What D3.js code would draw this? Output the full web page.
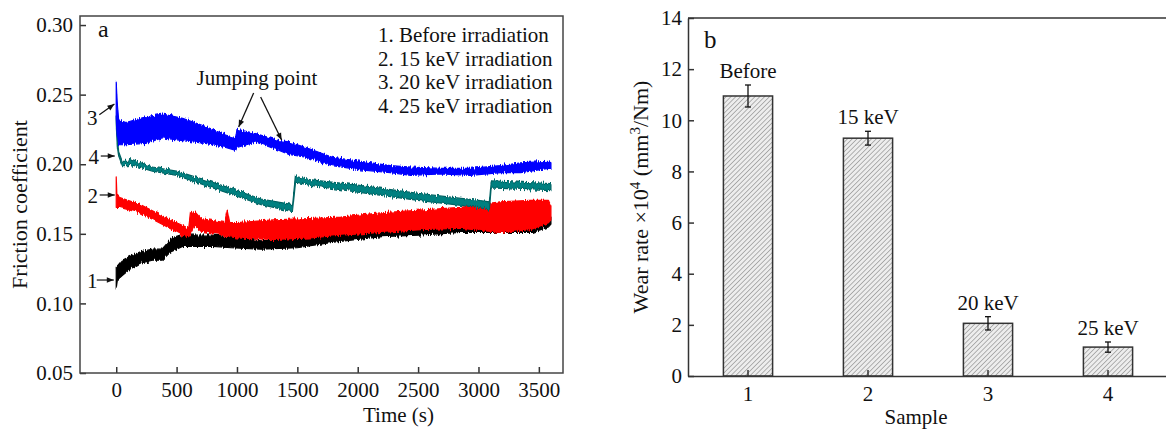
<!DOCTYPE html>
<html>
<head>
<meta charset="utf-8">
<script src="https://cdn.jsdelivr.net/npm/d3@7"></script>
<style>
  body { margin: 0; background: #fff; }
  svg text { font-family: 'Liberation Serif', 'Times New Roman', serif; font-size: 21px; fill: #111; }
  .axis path, .axis line { stroke: #333; stroke-width: 1.5; }
  .axis text { font-family: 'Liberation Serif', 'Times New Roman', serif; font-size: 21px; fill: #111; }
</style>
</head>
<body>
<div id="chart"></div>
<script>
// ---------- Panel a: friction coefficient traces (upper / lower envelope of the noisy band)
const beforeTime  = [0, 10, 50, 120, 200, 300, 380, 450, 550, 800, 950, 1200, 1500, 1800, 2200, 2500, 2850, 3200, 3450, 3580, 3600];
const beforeUpper = [0.126, 0.127, 0.131, 0.134, 0.137, 0.139, 0.139, 0.146, 0.149, 0.149, 0.148, 0.145, 0.147, 0.151, 0.155, 0.156, 0.158, 0.159, 0.160, 0.161, 0.162];
const beforeLower = [0.111, 0.117, 0.120, 0.125, 0.129, 0.131, 0.131, 0.137, 0.141, 0.141, 0.140, 0.139, 0.140, 0.144, 0.148, 0.149, 0.151, 0.151, 0.151, 0.155, 0.157];

const kev15Time  = [0, 5, 30, 200, 400, 550, 600, 615, 650, 700, 900, 920, 940, 1000, 1300, 1600, 1860, 2190, 2520, 2850, 3180, 3430, 3580, 3600];
const kev15Upper = [0.191, 0.178, 0.176, 0.171, 0.162, 0.156, 0.154, 0.165, 0.166, 0.161, 0.158, 0.167, 0.158, 0.158, 0.160, 0.161, 0.162, 0.165, 0.167, 0.169, 0.173, 0.174, 0.174, 0.170];
const kev15Lower = [0.169, 0.169, 0.169, 0.165, 0.156, 0.149, 0.148, 0.150, 0.156, 0.152, 0.149, 0.149, 0.148, 0.147, 0.146, 0.147, 0.149, 0.151, 0.153, 0.154, 0.151, 0.153, 0.158, 0.160];

const kev20Time  = [0, 8, 20, 80, 245, 385, 550, 740, 906, 990, 1000, 1155, 1345, 1430, 1570, 1790, 2025, 2270, 2440, 2690, 2935, 3183, 3350, 3580, 3600];
const kev20Upper = [0.259, 0.245, 0.232, 0.230, 0.234, 0.236, 0.233, 0.227, 0.221, 0.219, 0.225, 0.222, 0.217, 0.216, 0.212, 0.205, 0.202, 0.199, 0.198, 0.197, 0.197, 0.199, 0.201, 0.202, 0.201];
const kev20Lower = [0.232, 0.222, 0.214, 0.214, 0.215, 0.219, 0.217, 0.215, 0.212, 0.210, 0.212, 0.216, 0.210, 0.207, 0.205, 0.199, 0.196, 0.194, 0.192, 0.193, 0.192, 0.194, 0.194, 0.197, 0.197];

const kev25Time  = [0, 10, 20, 50, 100, 110, 300, 500, 800, 1000, 1200, 1460, 1485, 1500, 1600, 2000, 2500, 3000, 3090, 3105, 3600];
const kev25Upper = [0.234, 0.220, 0.209, 0.202, 0.202, 0.204, 0.198, 0.195, 0.187, 0.181, 0.175, 0.171, 0.192, 0.191, 0.189, 0.185, 0.179, 0.174, 0.173, 0.188, 0.186];
const kev25Lower = [0.228, 0.212, 0.206, 0.199, 0.199, 0.200, 0.195, 0.192, 0.183, 0.177, 0.171, 0.166, 0.187, 0.187, 0.185, 0.180, 0.174, 0.169, 0.167, 0.183, 0.181];

const timeTicks = [0, 500, 1000, 1500, 2000, 2500, 3000, 3500];
const frictionTicks = [0.05, 0.10, 0.15, 0.20, 0.25, 0.30];
const legendLabels = ['1. Before irradiation', '2. 15 keV irradiation', '3. 20 keV irradiation', '4. 25 keV irradiation'];

// ---------- Panel b: wear rate per sample
const sampleIds = [1, 2, 3, 4];
const sampleLabels = ['Before', '15 keV', '20 keV', '25 keV'];
const wearRate = [10.95, 9.30, 2.06, 1.13];
const wearError = [0.43, 0.27, 0.26, 0.20];
const wearTicks = [0, 2, 4, 6, 8, 10, 12, 14];

// Series in drawing order (black at the back, blue on top)
const series = [
  {key: '1', color: '#000000', edge: '#000000', t: beforeTime, hi: beforeUpper, lo: beforeLower},
  {key: '2', color: '#ff0000', edge: '#ff0000', t: kev15Time, hi: kev15Upper, lo: kev15Lower},
  {key: '4', color: '#008080', edge: '#006464', t: kev25Time, hi: kev25Upper, lo: kev25Lower},
  {key: '3', color: '#0000ff', edge: '#0000ff', t: kev20Time, hi: kev20Upper, lo: kev20Lower}
].map(s => ({...s, values: s.t.map((t, i) => ({t, hi: s.hi[i], lo: s.lo[i]}))}));

// Numbered pointers at the start of each trace (data coordinates)
const seriesPointers = [
  {label: '3', text: [-199, 0.2332], tail: [-140, 0.2355], tip: [-15, 0.2432]},
  {label: '4', text: [-186, 0.2055], tail: [-128, 0.2059], tip: [-12, 0.2059]},
  {label: '2', text: [-195, 0.1775], tail: [-137, 0.1779], tip: [-12, 0.1779]},
  {label: '1', text: [-199, 0.1165], tail: [-161, 0.1168], tip: [-20, 0.1168]}
];
const jumpArrows = [
  {tail: [1138, 0.2511], tip: [1014, 0.2267]},
  {tail: [1196, 0.2483], tip: [1370, 0.2174]}
];

const svg = d3.select('#chart').append('svg')
    .attr('width', 1166)
    .attr('height', 430);

const defs = svg.append('defs');

defs.append('marker')
    .attr('id', 'arrow')
    .attr('viewBox', '0 0 10 10')
    .attr('refX', 10)
    .attr('refY', 5)
    .attr('markerUnits', 'userSpaceOnUse')
    .attr('markerWidth', 8)
    .attr('markerHeight', 7)
    .attr('orient', 'auto')
  .append('path')
    .attr('d', 'M0,1L10,5L0,9Z')
    .attr('fill', '#111');

const hatch = defs.append('pattern')
    .attr('id', 'hatch')
    .attr('patternUnits', 'userSpaceOnUse')
    .attr('width', 3.4)
    .attr('height', 3.4)
    .attr('patternTransform', 'rotate(45)');
hatch.append('rect').attr('width', 3.4).attr('height', 3.4).attr('fill', '#ededed');
hatch.append('line')
    .attr('x1', 0).attr('y1', 0).attr('x2', 0).attr('y2', 3.4)
    .attr('stroke', '#7d7d7d')
    .attr('stroke-width', 1.1);

// Rough edge texture for the measured traces: vertical-only jitter of the band outline
const rough = defs.append('filter')
    .attr('id', 'rough')
    .attr('x', '-5%').attr('y', '-20%')
    .attr('width', '110%').attr('height', '140%');
rough.append('feTurbulence')
    .attr('type', 'fractalNoise')
    .attr('baseFrequency', '0.9 0.04')
    .attr('numOctaves', 2)
    .attr('seed', 3)
    .attr('result', 'noise');
rough.append('feColorMatrix')
    .attr('in', 'noise')
    .attr('type', 'matrix')
    .attr('values', '0 0 0 0 0.5  0 1 0 0 0  0 0 1 0 0  0 0 0 0 1')
    .attr('result', 'noiseY');
rough.append('feDisplacementMap')
    .attr('in', 'SourceGraphic')
    .attr('in2', 'noiseY')
    .attr('scale', 6)
    .attr('xChannelSelector', 'R')
    .attr('yChannelSelector', 'G');

/* ================= Panel a ================= */
const a = {left: 80, right: 563, top: 16, bottom: 373};

const xTime = d3.scaleLinear().domain([-300, 3700]).range([a.left, a.right]);
const yFric = d3.scaleLinear().domain([0.05, 0.3065]).range([a.bottom, a.top]);

defs.append('clipPath').attr('id', 'clip-a')
  .append('rect')
    .attr('x', a.left).attr('y', a.top)
    .attr('width', a.right - a.left).attr('height', a.bottom - a.top);

const band = d3.area()
    .x(d => xTime(d.t))
    .y0(d => yFric(d.lo))
    .y1(d => yFric(d.hi));

svg.append('g')
    .attr('clip-path', 'url(#clip-a)')
  .selectAll('path')
    .data(series)
  .join('path')
    .attr('d', d => band(d.values))
    .attr('fill', d => d.color)
    .attr('stroke', d => d.edge)
    .attr('stroke-width', 1.2)
    .attr('stroke-linejoin', 'round')
    .attr('filter', 'url(#rough)');

// Axes (ticks point inward)
const xAxisA = svg.append('g')
    .attr('class', 'axis')
    .attr('transform', `translate(0,${a.bottom})`)
    .call(d3.axisBottom(xTime).tickValues(timeTicks).tickSize(-6).tickPadding(9).tickFormat(d3.format('d')));
xAxisA.select('.domain').remove();

const yAxisA = svg.append('g')
    .attr('class', 'axis')
    .attr('transform', `translate(${a.left},0)`)
    .call(d3.axisLeft(yFric).tickValues(frictionTicks).tickSize(-6).tickPadding(7).tickFormat(d3.format('.2f')));
yAxisA.select('.domain').remove();

svg.append('rect')
    .attr('x', a.left).attr('y', a.top)
    .attr('width', a.right - a.left).attr('height', a.bottom - a.top)
    .attr('fill', 'none')
    .attr('stroke', '#444')
    .attr('stroke-width', 1.5);

svg.append('text')
    .attr('x', (a.left + a.right) / 2 + 77)
    .attr('y', 422)
    .attr('text-anchor', 'middle')
    .text('Time (s)');

svg.append('text')
    .attr('transform', `translate(27,${(a.top + a.bottom) / 2 + 10}) rotate(-90)`)
    .attr('text-anchor', 'middle')
    .style('font-size', '22px')
    .text('Friction coefficient');

svg.append('text').attr('x', 98).attr('y', 37).style('font-size', '24px').text('a');

// Legend text
svg.append('g').selectAll('text')
    .data(legendLabels)
  .join('text')
    .attr('x', 378)
    .attr('y', (d, i) => 42 + i * 23.7)
    .text(d => d);

// Pointers to each trace
const pointer = svg.append('g');
pointer.selectAll('line')
    .data(seriesPointers)
  .join('line')
    .attr('x1', d => xTime(d.tail[0])).attr('y1', d => yFric(d.tail[1]))
    .attr('x2', d => xTime(d.tip[0])).attr('y2', d => yFric(d.tip[1]))
    .attr('stroke', '#111')
    .attr('stroke-width', 1.2)
    .attr('marker-end', 'url(#arrow)');
pointer.selectAll('text')
    .data(seriesPointers)
  .join('text')
    .attr('x', d => xTime(d.text[0]))
    .attr('y', d => yFric(d.text[1]))
    .attr('dy', '0.35em')
    .attr('text-anchor', 'middle')
    .text(d => d.label);

// "Jumping point" annotation
svg.append('text')
    .attr('x', xTime(1165))
    .attr('y', yFric(0.2569))
    .attr('text-anchor', 'middle')
    .text('Jumping point');
svg.append('g').selectAll('line')
    .data(jumpArrows)
  .join('line')
    .attr('x1', d => xTime(d.tail[0])).attr('y1', d => yFric(d.tail[1]))
    .attr('x2', d => xTime(d.tip[0])).attr('y2', d => yFric(d.tip[1]))
    .attr('stroke', '#111')
    .attr('stroke-width', 1.3)
    .attr('marker-end', 'url(#arrow)');

/* ================= Panel b ================= */
const b = {left: 688, right: 1168, top: 18, bottom: 376};

const xSample = d3.scaleBand()
    .domain(sampleIds)
    .range([b.left, b.right])
    .paddingInner(0.59)
    .paddingOuter(0.295);
const ySample = d3.scaleLinear().domain([0, 14]).range([b.bottom, b.top]);

const bars = sampleIds.map((id, i) => ({id, label: sampleLabels[i], value: wearRate[i], err: wearError[i]}));
const cx = d => xSample(d.id) + xSample.bandwidth() / 2;

svg.append('g').selectAll('rect')
    .data(bars)
  .join('rect')
    .attr('x', d => xSample(d.id))
    .attr('y', d => ySample(d.value))
    .attr('width', xSample.bandwidth())
    .attr('height', d => b.bottom - ySample(d.value))
    .attr('fill', 'url(#hatch)')
    .attr('stroke', '#333')
    .attr('stroke-width', 1.5);

// Error bars
const errG = svg.append('g').attr('stroke', '#111').attr('stroke-width', 1.3);
errG.selectAll('.err-v')
    .data(bars)
  .join('line')
    .attr('class', 'err-v')
    .attr('x1', cx).attr('x2', cx)
    .attr('y1', d => ySample(d.value - d.err))
    .attr('y2', d => ySample(d.value + d.err));
errG.selectAll('.err-cap')
    .data(bars.flatMap(d => [{...d, y: d.value - d.err}, {...d, y: d.value + d.err}]))
  .join('line')
    .attr('class', 'err-cap')
    .attr('x1', d => cx(d) - 3).attr('x2', d => cx(d) + 3)
    .attr('y1', d => ySample(d.y)).attr('y2', d => ySample(d.y));

svg.append('g').selectAll('text')
    .data(bars)
  .join('text')
    .attr('x', cx)
    .attr('y', d => ySample(d.value + d.err) - 7)
    .attr('text-anchor', 'middle')
    .text(d => d.label);

svg.append('g')
    .attr('class', 'axis')
    .attr('transform', `translate(0,${b.bottom})`)
    .call(d3.axisBottom(xSample).tickSize(-6).tickSizeOuter(0).tickPadding(10));

svg.append('g')
    .attr('class', 'axis')
    .attr('transform', `translate(${b.left},0)`)
    .call(d3.axisLeft(ySample).tickValues(wearTicks).tickSize(-6).tickSizeOuter(0).tickPadding(6));

svg.append('line')
    .attr('x1', b.left).attr('x2', b.right)
    .attr('y1', b.top).attr('y2', b.top)
    .attr('stroke', '#333')
    .attr('stroke-width', 1.5);

svg.append('text').attr('x', 704).attr('y', 48).style('font-size', '25px').text('b');

svg.append('text')
    .attr('x', (b.left + b.right) / 2 - 12)
    .attr('y', 424)
    .attr('text-anchor', 'middle')
    .text('Sample');

const wearTitle = svg.append('text')
    .attr('transform', 'translate(648,197) rotate(-90)')
    .attr('text-anchor', 'middle')
    .style('font-size', '22px');
wearTitle.append('tspan').text('Wear rate \u00d710');
wearTitle.append('tspan').attr('dy', -8).style('font-size', '15px').text('4');
wearTitle.append('tspan').attr('dy', 8).text(' (mm');
wearTitle.append('tspan').attr('dy', -8).style('font-size', '15px').text('3');
wearTitle.append('tspan').attr('dy', 8).text('/Nm)');
</script>
</body>
</html>
